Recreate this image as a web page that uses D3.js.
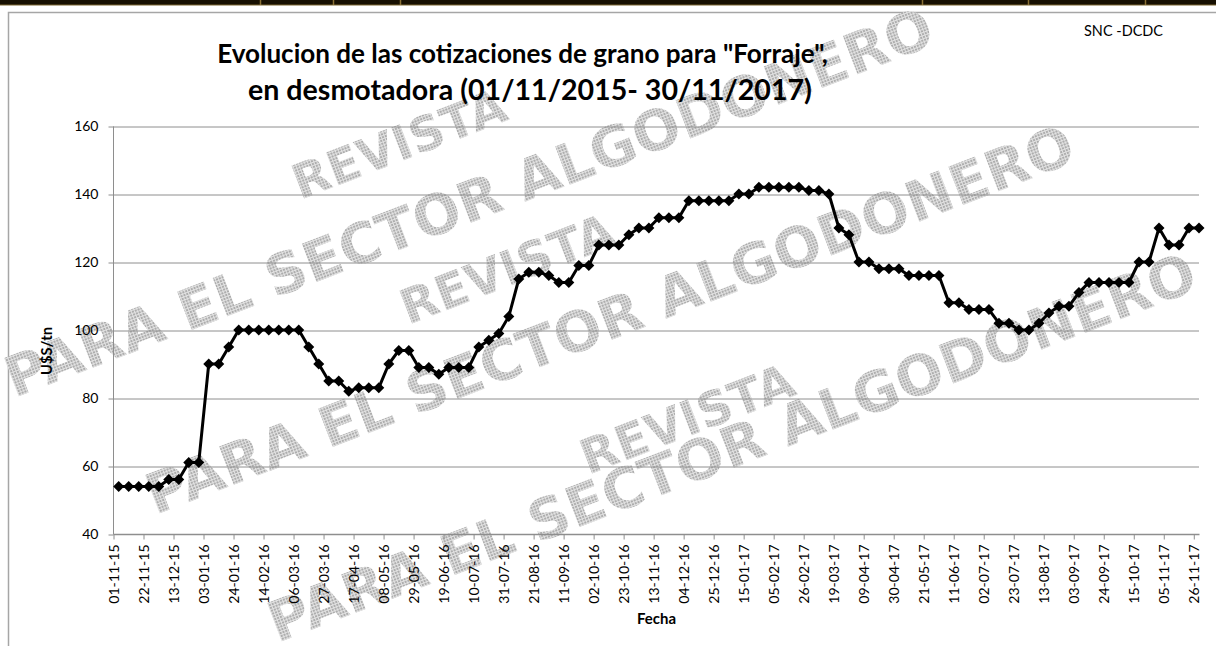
<!DOCTYPE html>
<html><head><meta charset="utf-8">
<script src="https://cdn.jsdelivr.net/npm/d3@7"></script>
<style>html,body{margin:0;padding:0;background:#fff;}svg{display:block;}</style>
</head><body>
<svg id="c" width="1216" height="646"></svg>
<script>
// ---------- data ----------
const titleLines = ['Evolucion de las cotizaciones de grano para "Forraje",', 'en desmotadora (01/11/2015- 30/11/2017)'];
const sourceLabel = "SNC -DCDC";
const yAxisTitle = "U$S/tn";
const xAxisTitle = "Fecha";
const firstDate = "05-11-15";          // first weekly quote
const xDomain = ["01-11-15", "30-11-17"];
const prices = [
  54,54,54,54,54,56,56,61,61,90,
  90,95,100,100,100,100,100,100,100,95,
  90,85,85,82,83,83,83,90,94,94,
  89,89,87,89,89,89,95,97,99,104,
  115,117,117,116,114,114,119,119,125,125,
  125,128,130,130,133,133,133,138,138,138,
  138,138,140,140,142,142,142,142,142,141,
  141,140,130,128,120,120,118,118,118,116,
  116,116,116,108,108,106,106,106,102,102,
  100,100,102,105,107,107,111,114,114,114,
  114,114,120,120,130,125,125,130,130
];
const tickLabels = ["01-11-15","22-11-15","13-12-15","03-01-16","24-01-16","14-02-16","06-03-16","27-03-16","17-04-16","08-05-16","29-05-16","19-06-16","10-07-16","31-07-16","21-08-16","11-09-16","02-10-16","23-10-16","13-11-16","04-12-16","25-12-16","15-01-17","05-02-17","26-02-17","19-03-17","09-04-17","30-04-17","21-05-17","11-06-17","02-07-17","23-07-17","13-08-17","03-09-17","24-09-17","15-10-17","05-11-17","26-11-17"];
const yTicks = [40,60,80,100,120,140,160];
const watermarkLines = ["PARA EL SECTOR ALGODONERO","PARA EL SECTOR ALGODONERO","PARA EL SECTOR ALGODONERO"];
const watermarkWord = "REVISTA";

// ---------- setup ----------
const svg = d3.select("#c");
const W = 1216, H = 646;
const parse = d3.utcParse("%d-%m-%y");
const start = parse(firstDate);
const series = prices.map((v, i) => ({date: d3.utcDay.offset(start, 7 * i), v}));

const pL = 113, pR = 1199, pT = 126, pB = 534;
const x = d3.scaleUtc().domain(xDomain.map(parse)).range([pL, pR]);
const y = d3.scaleLinear().domain([40, 160]).range([pB, pT]);

svg.append("rect").attr("width", W).attr("height", H).attr("fill", "#fff");

const defs = svg.append("defs");
const pat = defs.append("pattern").attr("id", "dots").attr("width", 3).attr("height", 3)
  .attr("patternUnits", "userSpaceOnUse");
pat.append("rect").attr("width", 3).attr("height", 3).attr("fill", "#e2e2e2");
pat.append("rect").attr("width", 2).attr("height", 2).attr("fill", "#adadad");

// top bar
svg.append("rect").attr("x", 0).attr("y", 0).attr("width", W).attr("height", 5).attr("fill", "#171002");
svg.append("line").attr("x1", 0).attr("x2", W).attr("y1", 5).attr("y2", 5).attr("stroke", "#7a6530").attr("stroke-width", 1);
[260, 333, 400, 922, 1028, 1145].forEach(d => {
  svg.append("line").attr("x1", d + 0.5).attr("x2", d + 0.5).attr("y1", 0).attr("y2", 5)
    .attr("stroke", "#8a7035").attr("stroke-width", 1.5);
});

// chart frame
svg.append("path").attr("d", `M8.5,${H} V12.5 H${W}`).attr("fill", "none")
  .attr("stroke", "#a6a6a6").attr("stroke-width", 1.5);

// watermark
const wm = svg.append("g").attr("font-family", "'DejaVu Sans', sans-serif")
  .attr("font-weight", "bold").attr("fill", "url(#dots)");
const wmLinePos = [[14, 398], [155, 515], [277, 643]];
watermarkLines.forEach((t, i) => {
  wm.append("text").attr("transform", `translate(${wmLinePos[i][0]},${wmLinePos[i][1]}) rotate(-21)`)
    .attr("font-size", 56).text(t);
});
const wmWordPos = [[300, 200], [408, 325], [588, 475]];
wmWordPos.forEach(p => {
  wm.append("text").attr("transform", `translate(${p[0]},${p[1]}) rotate(-21)`)
    .attr("font-size", 48).text(watermarkWord);
});

const gridColor = "#8e8e8e";
const font = "Lato, 'Open Sans', sans-serif";

// gridlines
const grid = svg.append("g").attr("transform", `translate(${pL},0.5)`)
  .call(d3.axisLeft(y).tickValues(yTicks.filter(v => v > 40)).tickSize(-(pR - pL)).tickFormat(""));
grid.select(".domain").remove();
grid.selectAll("line").attr("stroke", gridColor).attr("stroke-width", 1);

// y axis
const ya = svg.append("g").attr("transform", `translate(${pL + 0.5},0.5)`)
  .call(d3.axisLeft(y).tickValues(yTicks).tickSize(5).tickPadding(10));
ya.select(".domain").attr("stroke", gridColor).attr("d", `M0,${pT}V${pB}`);
ya.selectAll("line").attr("stroke", gridColor);
ya.selectAll("text").attr("font-family", font).attr("font-size", 14).attr("fill", "#000");

// x axis
const tickDates = tickLabels.map(parse);
const xa = svg.append("g").attr("transform", `translate(0.5,${pB + 0.5})`)
  .call(d3.axisBottom(x).tickValues(tickDates).tickFormat((d, i) => tickLabels[i]).tickSize(5).tickSizeOuter(0));
xa.select(".domain").attr("stroke", gridColor).attr("stroke-width", 1.5).attr("d", `M${pL},0H${pR}`);
xa.selectAll("line").attr("stroke", gridColor);
xa.selectAll("text").attr("font-family", font).attr("font-size", 14).attr("fill", "#000")
  .attr("transform", "rotate(-90)").attr("text-anchor", "end")
  .attr("x", -10).attr("y", 0).attr("dy", "0.35em");

// series line
const line = d3.line().x(d => x(d.date)).y(d => y(d.v));
svg.append("path").datum(series).attr("d", line).attr("fill", "none")
  .attr("stroke", "#000").attr("stroke-width", 3).attr("stroke-linejoin", "round");
svg.append("g").selectAll("path").data(series).join("path")
  .attr("transform", d => `translate(${x(d.date)},${y(d.v)})`)
  .attr("d", "M0,-5.5L5.5,0L0,5.5L-5.5,0Z").attr("fill", "#000");

// texts
function fit(sel, w) {
  const cur = sel.node().getComputedTextLength();
  const fs = parseFloat(sel.attr("font-size"));
  sel.attr("font-size", fs * w / cur);
  return sel;
}
fit(svg.append("text").attr("x", 522.5).attr("y", 63).attr("text-anchor", "middle")
  .attr("font-family", font).attr("font-weight", "bold").attr("font-size", 24).text(titleLines[0]), 611);
fit(svg.append("text").attr("x", 530).attr("y", 100).attr("text-anchor", "middle")
  .attr("font-family", font).attr("font-weight", "bold").attr("font-size", 24).text(titleLines[1]), 564);
fit(svg.append("text").attr("x", 1084).attr("y", 36).attr("font-family", font)
  .attr("font-size", 14).text(sourceLabel), 79);
fit(svg.append("text").attr("x", 656.5).attr("y", 624).attr("text-anchor", "middle")
  .attr("font-family", font).attr("font-weight", "bold").attr("font-size", 14).text(xAxisTitle), 39);
fit(svg.append("text").attr("transform", "translate(52,351) rotate(-90)").attr("text-anchor", "middle")
  .attr("font-family", font).attr("font-weight", "bold").attr("font-size", 14).text(yAxisTitle), 48);
</script>
</body></html>
